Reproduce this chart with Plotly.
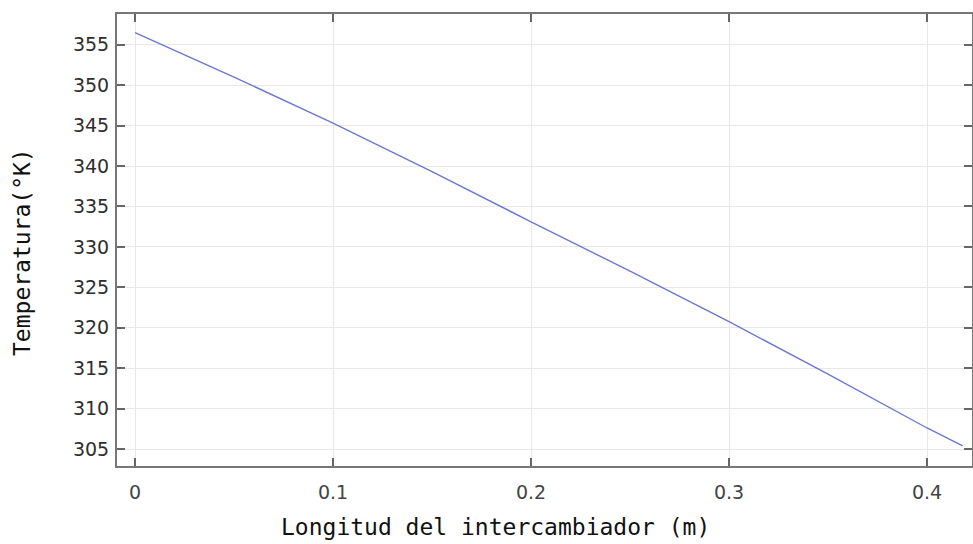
import plotly.graph_objects as go

# Data
longitud_m = [0.0, 0.05, 0.10, 0.15, 0.20, 0.25, 0.30, 0.35, 0.40, 0.418]
temperatura_K = [356.5, 351.0, 345.3, 339.3, 333.1, 327.0, 320.75, 314.25, 307.6, 305.4]

x_ticks = [0, 0.1, 0.2, 0.3, 0.4]
x_tick_labels = ["0", "0.1", "0.2", "0.3", "0.4"]
y_ticks = [305, 310, 315, 320, 325, 330, 335, 340, 345, 350, 355]
y_tick_labels = [str(v) for v in y_ticks]

x_title = "Longitud del intercambiador (m)"
y_title = "Temperatura(°K)"

fig = go.Figure()
fig.add_trace(go.Scatter(
    x=longitud_m, y=temperatura_K, mode="lines",
    line=dict(color="#6b78d0", width=1.4),
    showlegend=False, hoverinfo="x+y",
))

W, H = 973, 544
ml, mr, mt, mb = 117, 1, 14, 78
pw, ph = W - ml - mr, H - mt - mb

axis_common = dict(
    showline=True, linecolor="#777777", linewidth=2, mirror="ticks",
    ticks="inside", ticklen=8, tickwidth=1.5, tickcolor="#666666",
    showgrid=True, gridcolor="#e8e8e8", gridwidth=1,
    zeroline=False,
)

fig.update_layout(
    width=W, height=H,
    margin=dict(l=ml, r=mr, t=mt, b=mb, autoexpand=False),
    paper_bgcolor="white", plot_bgcolor="white",
    xaxis=dict(range=[-0.0091, 0.4227], tickvals=x_ticks, ticktext=x_tick_labels,
               ticklabelstandoff=8,
               tickfont=dict(family="DejaVu Sans", size=19, color="#444444"),
               **axis_common),
    yaxis=dict(range=[302.9, 358.8], tickvals=y_ticks, ticktext=y_tick_labels,
               ticklabelstandoff=2,
               tickfont=dict(family="DejaVu Sans", size=19, color="#2e2e2e"),
               **axis_common),
    annotations=[
        dict(text=x_title, xref="paper", yref="paper",
             x=(495 - ml) / pw, y=-(542 - mt - ph) / ph,
             xanchor="center", yanchor="bottom", showarrow=False,
             font=dict(family="DejaVu Sans Mono", size=23, color="#111111")),
        dict(text=y_title, xref="paper", yref="paper",
             x=(22 - ml) / pw, y=1 - (252 - mt) / ph, textangle=-90,
             xanchor="center", yanchor="middle", showarrow=False,
             font=dict(family="DejaVu Sans Mono", size=23, color="#111111")),
    ],
)

fig.write_html(
    "out.html",
    config={"displayModeBar": False},
    post_script="document.body.style.margin='0';document.body.style.overflow='hidden';",
)
